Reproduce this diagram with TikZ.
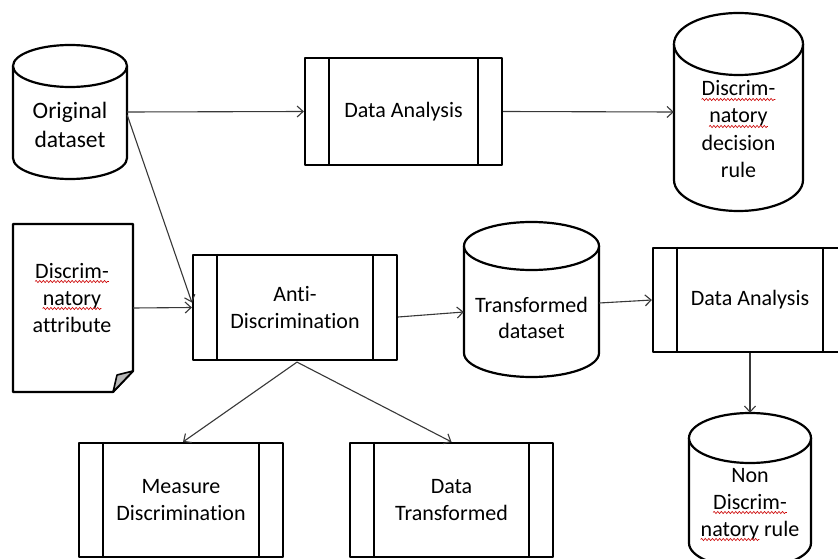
\documentclass[tikz,border=0pt]{standalone}
\usepackage{fontspec}
\setmainfont{Carlito}[Ligatures=NoCommon]
\usetikzlibrary{arrows.meta,calc,fit,decorations.pathmorphing}

% predefined-process box: rectangle with a bar 25 units inside each side
\newcommand\procbox[6]{% name, cx, cy, width, height, text
  \node[frame, txt, minimum width=#4pt, minimum height=#5pt] (#1) at (#2,#3) {#6};
  \draw[bar] ($(#1.north west)+(25,0)$) -- ($(#1.south west)+(25,0)$);
  \draw[bar] ($(#1.north east)+(-25,0)$) -- ($(#1.south east)+(-25,0)$);
}
% database cylinder: name, cx, top, bottom, x radius, y radius
\newcommand\dbcyl[6]{%
  \pgfmathsetmacro\cyL{#2-#5}\pgfmathsetmacro\cyR{#2+#5}%
  \pgfmathsetmacro\cyT{#3+#6}\pgfmathsetmacro\cyB{#4-#6}%
  \node[inner sep=0, fit={(\cyL,#3) (\cyR,#4)}] (#1) {};
  \draw[frame] (\cyL,\cyT) -- (\cyL,\cyB)
     arc[start angle=180, end angle=0, x radius=#5, y radius=#6]
     -- (\cyR,\cyT)
     arc[start angle=0, end angle=-180, x radius=#5, y radius=#6] -- cycle;
  \draw[frame] (\cyL,\cyT) arc[start angle=180, end angle=0, x radius=#5, y radius=#6];
}
% red spell-check squiggle under a text line node
\newcommand\squig[1]{%
  \draw[wavy] ($(#1.base west)+(0,3.5)$) -- ($(#1.base east)+(0,3.5)$);
}

\begin{document}
\begin{tikzpicture}[x=1pt, y=-1pt,
  txt/.style={font=\fontsize{22}{27}\selectfont, align=center, text=black, inner sep=0},
  line/.style={txt, anchor=base},
  frame/.style={draw=black, line width=2.2pt, fill=white, line join=round},
  bar/.style={draw=black, line width=2pt},
  conn/.style={draw=black!78, line width=1.1pt,
    -{Straight Barb[length=6pt, width=11pt, line width=1.1pt]}},
  wavy/.style={draw=red!80!black, line width=0.6pt, decorate,
    decoration={snake, segment length=3.6pt, amplitude=1.1pt}},
]
\clip (0,0) rectangle (838,559);
\fill[white] (0,0) rectangle (838,559);

% ---- sources
\dbcyl{od}{70}{45}{179}{57}{21}
\node[txt, font=\fontsize{23.5}{29}\selectfont] (odt) at (70,125) {Original\\dataset};

% document with folded corner
\node[inner sep=0, fit={(13,224) (133,392)}] (doc) {};
\draw[frame] (13,224) -- (133,224) -- (133,371) -- (113,392) -- (13,392) -- cycle;
\draw[draw=black, line width=1.6pt, fill=black!28, line join=round]
  (113,392) .. controls (115,384) and (116,379) .. (117,375) -- (133,371) -- cycle;
\node[line] (doc1) at (72,278) {Discrim-};
\node[line] (doc2) at (72,305) {natory};
\node[line] (doc3) at (72,332) {attribute};
\squig{doc1}\squig{doc2}

% ---- process boxes
\procbox{da1}{403.5}{111.5}{197}{107}{Data Analysis}
\procbox{anti}{295}{307.5}{204}{105}{Anti-\\Discrimination}
\procbox{ms}{181}{500}{204}{114}{Measure\\Discrimination}
\procbox{dt}{451.5}{500}{203}{114}{Data\\Transformed}
\procbox{da2}{750}{300}{194}{104}{Data Analysis}

% ---- cylinders on the right
\dbcyl{dr}{738.5}{13}{211}{64.5}{31}
\node[line] (dr1) at (738.5,96) {Discrim-};
\node[line] (dr2) at (738.5,123) {natory};
\node[line] (dr3) at (738.5,150) {decision};
\node[line] (dr4) at (738.5,177) {rule};
\squig{dr1}\squig{dr2}

\dbcyl{td}{531.5}{222}{377}{67.5}{24}
\node[line] (td1) at (531.5,312) {Transformed};
\node[line] (td2) at (531.5,338) {dataset};

\dbcyl{nr}{750}{413}{568}{61}{25}
\node[line] (nr1) at (750,482) {Non};
\node[line] (nr2) at (750,509) {Discrim-};
\node[line] (nr3a) at (750,536) {natory rule};
\node[inner sep=0, anchor=base west, font=\fontsize{22}{27}\selectfont] (nr3) at (nr3a.base west) {\phantom{natory}};
\squig{nr2}\squig{nr3}

% ---- connectors
\draw[conn] (od.east) -- (da1.west);
\draw[conn] ($(od.east)+(0,3)$) -- ($(anti.west)+(0,-5)$);
\draw[conn] (da1.east) -- (dr.west);
\draw[conn] (doc.east) -- (anti.west);
\draw[conn] ($(anti.east)+(0,9.5)$) -- ($(td.west)+(0,12.5)$);
\draw[conn] ($(td.east)+(0,3.5)$) -- (da2.west);
\draw[conn] (da2.south) -- (nr.north);
\coordinate (split) at ($(anti.south)+(2,1)$);
\draw[conn] (split) -- ($(ms.north)+(2,0)$);
\draw[conn] (split) -- (dt.north);
\end{tikzpicture}
\end{document}
